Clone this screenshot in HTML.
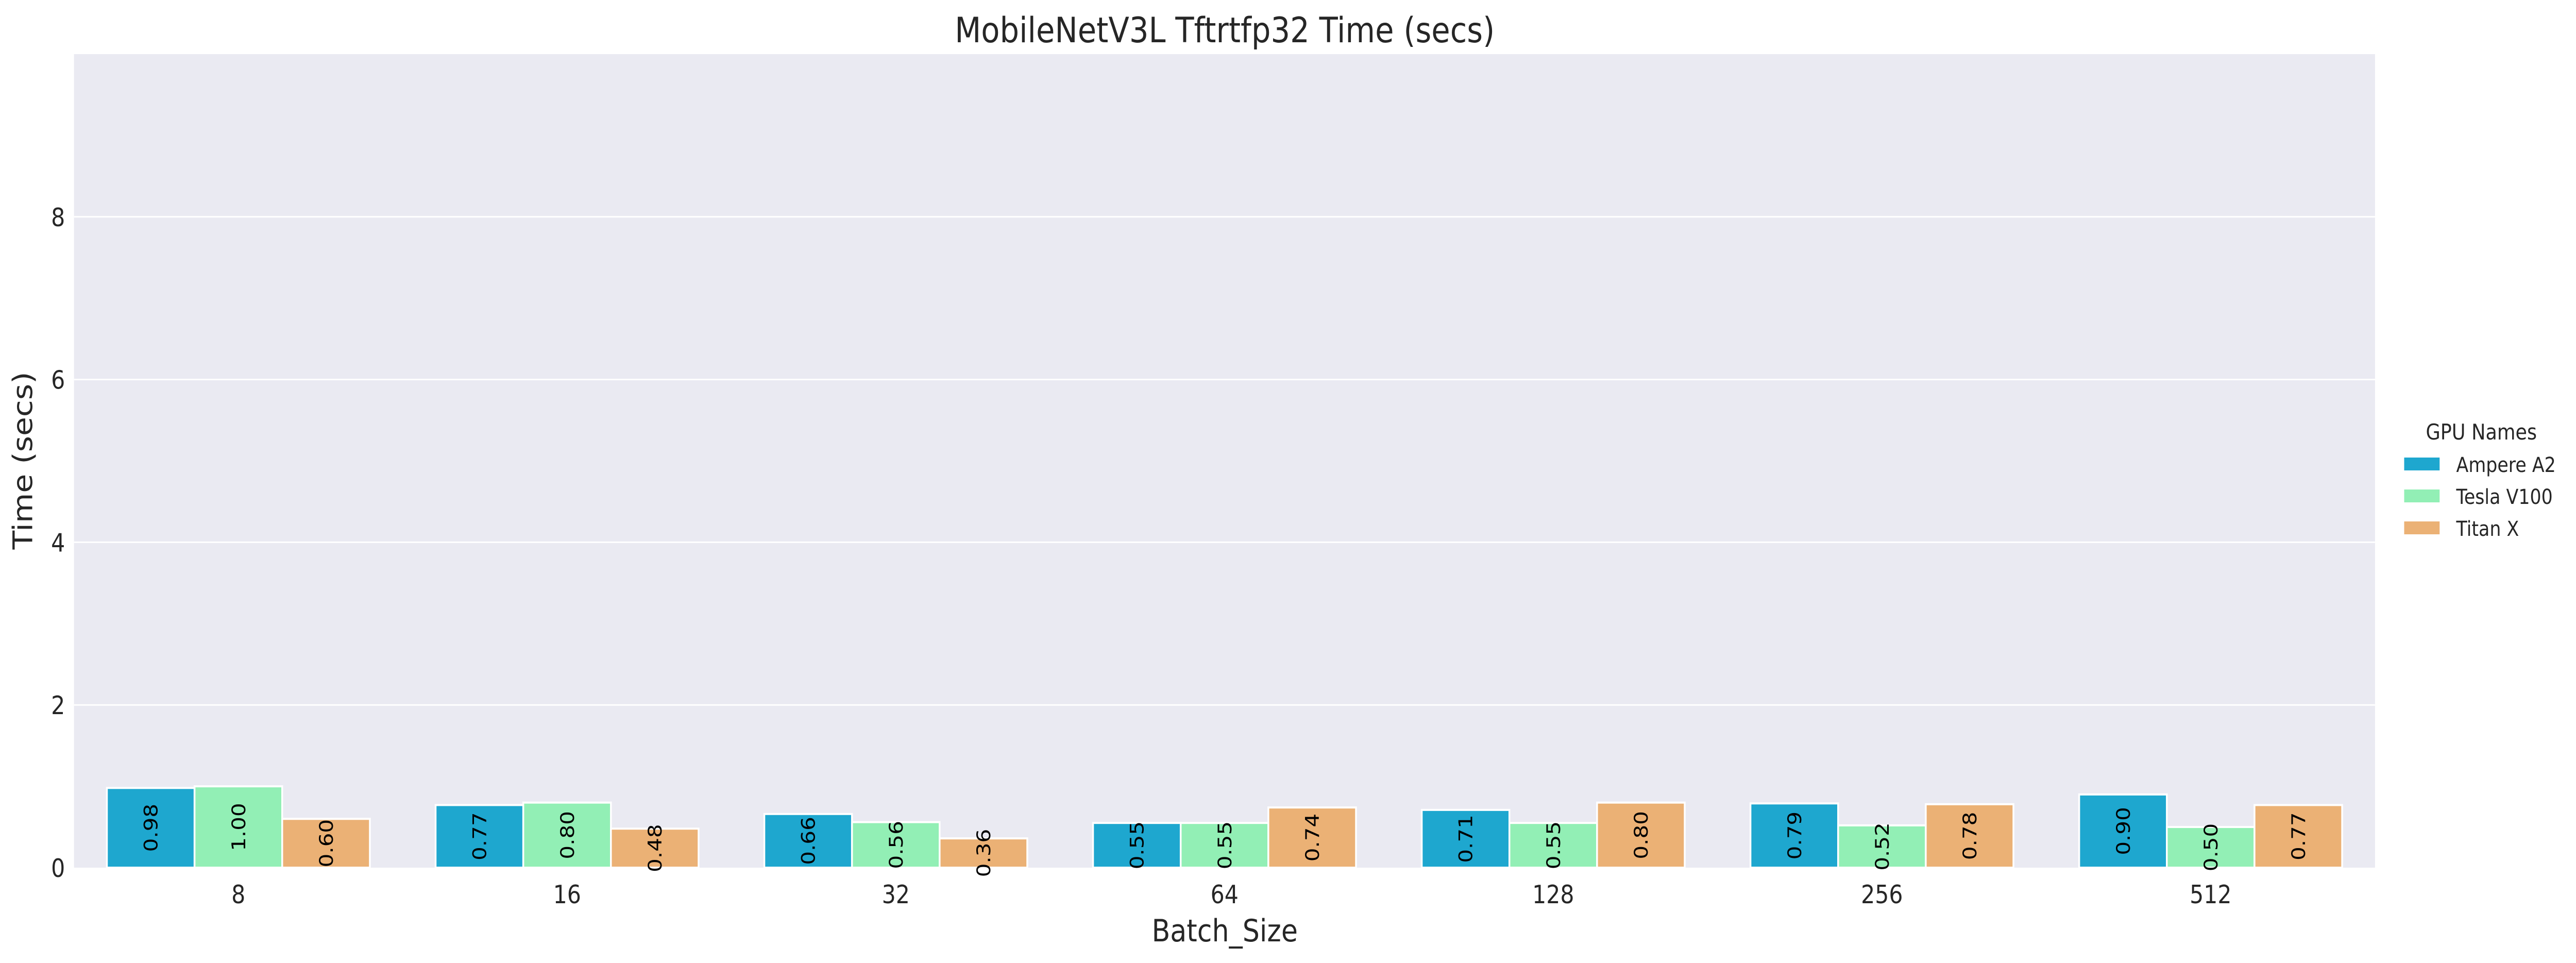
<!DOCTYPE html>
<html><head><meta charset="utf-8"><style>
html,body{margin:0;padding:0;background:#fff;width:5742px;height:1869px;overflow:hidden}
svg{display:block;position:absolute;left:0;top:0;width:100vw;height:100vh;font-family:"DejaVu Sans","Liberation Sans",sans-serif}
</style></head><body>
<svg id="chart" viewBox="0 0 5742 1869" preserveAspectRatio="none" xmlns="http://www.w3.org/2000/svg">
<rect x="0" y="0" width="5742" height="1869" fill="#fff"/>
<rect x="165" y="105" width="5129" height="1579" fill="#eaeaf2"/>
<g id="grid"></g>
<g id="bars"></g>
<g id="labels"></g>
<g id="ticks"></g>
<text x="2730" y="82" font-size="68" text-anchor="middle" fill="#262626">MobileNetV3L Tftrtfp32 Time (secs)</text>
<text x="2730" y="1827" font-size="60" text-anchor="middle" fill="#262626">Batch_Size</text>
<text transform="translate(72,894) rotate(-90)" font-size="60" text-anchor="middle" fill="#262626">Time (secs)</text>
<g id="legend">
<text x="5531" y="853" font-size="42" text-anchor="middle" fill="#262626">GPU Names</text>
</g>
</svg>
<script>
const categories = ["8","16","32","64","128","256","512"];
const seriesNames = ["Ampere A2","Tesla V100","Titan X"];
const ampere = [0.98,0.77,0.66,0.55,0.71,0.79,0.90];
const v100 = [1.00,0.80,0.56,0.55,0.55,0.52,0.50];
const titan = [0.60,0.48,0.36,0.74,0.80,0.78,0.77];
const yTicks = [0,2,4,6,8];
const colors = ["#1ea7cf","#92efb5","#ebb175"];

const NS = "http://www.w3.org/2000/svg";
const L = 165, R = 5294, T = 105, B = 1684, YMAX = 10;
const groupW = (R - L) / categories.length;
const barW = groupW * 0.8 / 3;
function y(v){ return B - (B - T) * v / YMAX; }
function xc(i){ return L + groupW * (i + 0.5); }
function mk(tag, attrs, parent){
  const e = document.createElementNS(NS, tag);
  for (const k in attrs) e.setAttribute(k, attrs[k]);
  parent.appendChild(e);
  return e;
}
const grid = document.getElementById('grid');
const ticks = document.getElementById('ticks');
yTicks.forEach(t => {
  if (t > 0) {
    const g = mk('line', {x1:L, x2:R, y1:y(t), y2:y(t), stroke:'#fff', 'stroke-width':3}, grid);
    
    
  }
  const tx = mk('text', {x:145, y:y(t)+18, 'font-size':49, 'text-anchor':'end', fill:'#262626'}, ticks);
  tx.textContent = t;
  
  
});
categories.forEach((c, i) => {
  const tx = mk('text', {x:xc(i), y:1753, 'font-size':49, 'text-anchor':'middle', fill:'#262626'}, ticks);
  tx.textContent = c;
  
  
});
const bars = document.getElementById('bars');
const labels = document.getElementById('labels');
[ampere, v100, titan].forEach((vals, s) => {
  vals.forEach((v, i) => {
    const x0 = xc(i) - 1.5 * barW + s * barW;
    const r = mk('rect', {x:x0, y:y(v), width:barW, height:B - y(v), fill:colors[s], stroke:'#fff', 'stroke-width':4}, bars);
    
    
    const cx = x0 + barW / 2, cy = (y(v) + B) / 2;
    const t = mk('text', {transform:`translate(${cx + 15},${cy}) rotate(-90)`, 'font-size':42, 'text-anchor':'middle', fill:'#000'}, labels);
    t.textContent = v.toFixed(2);
    
    
  });
});
const legend = document.getElementById('legend');
seriesNames.forEach((n, s) => {
  const yy = 888 + s * 62;
  const p = mk('rect', {x:5359, y:yy, width:79, height:25, fill:colors[s]}, legend);
  
  
  const t = mk('text', {x:5475, y:yy + 28, 'font-size':40, fill:'#262626'}, legend);
  t.textContent = n;
  
  
});
</script>
</body></html>
